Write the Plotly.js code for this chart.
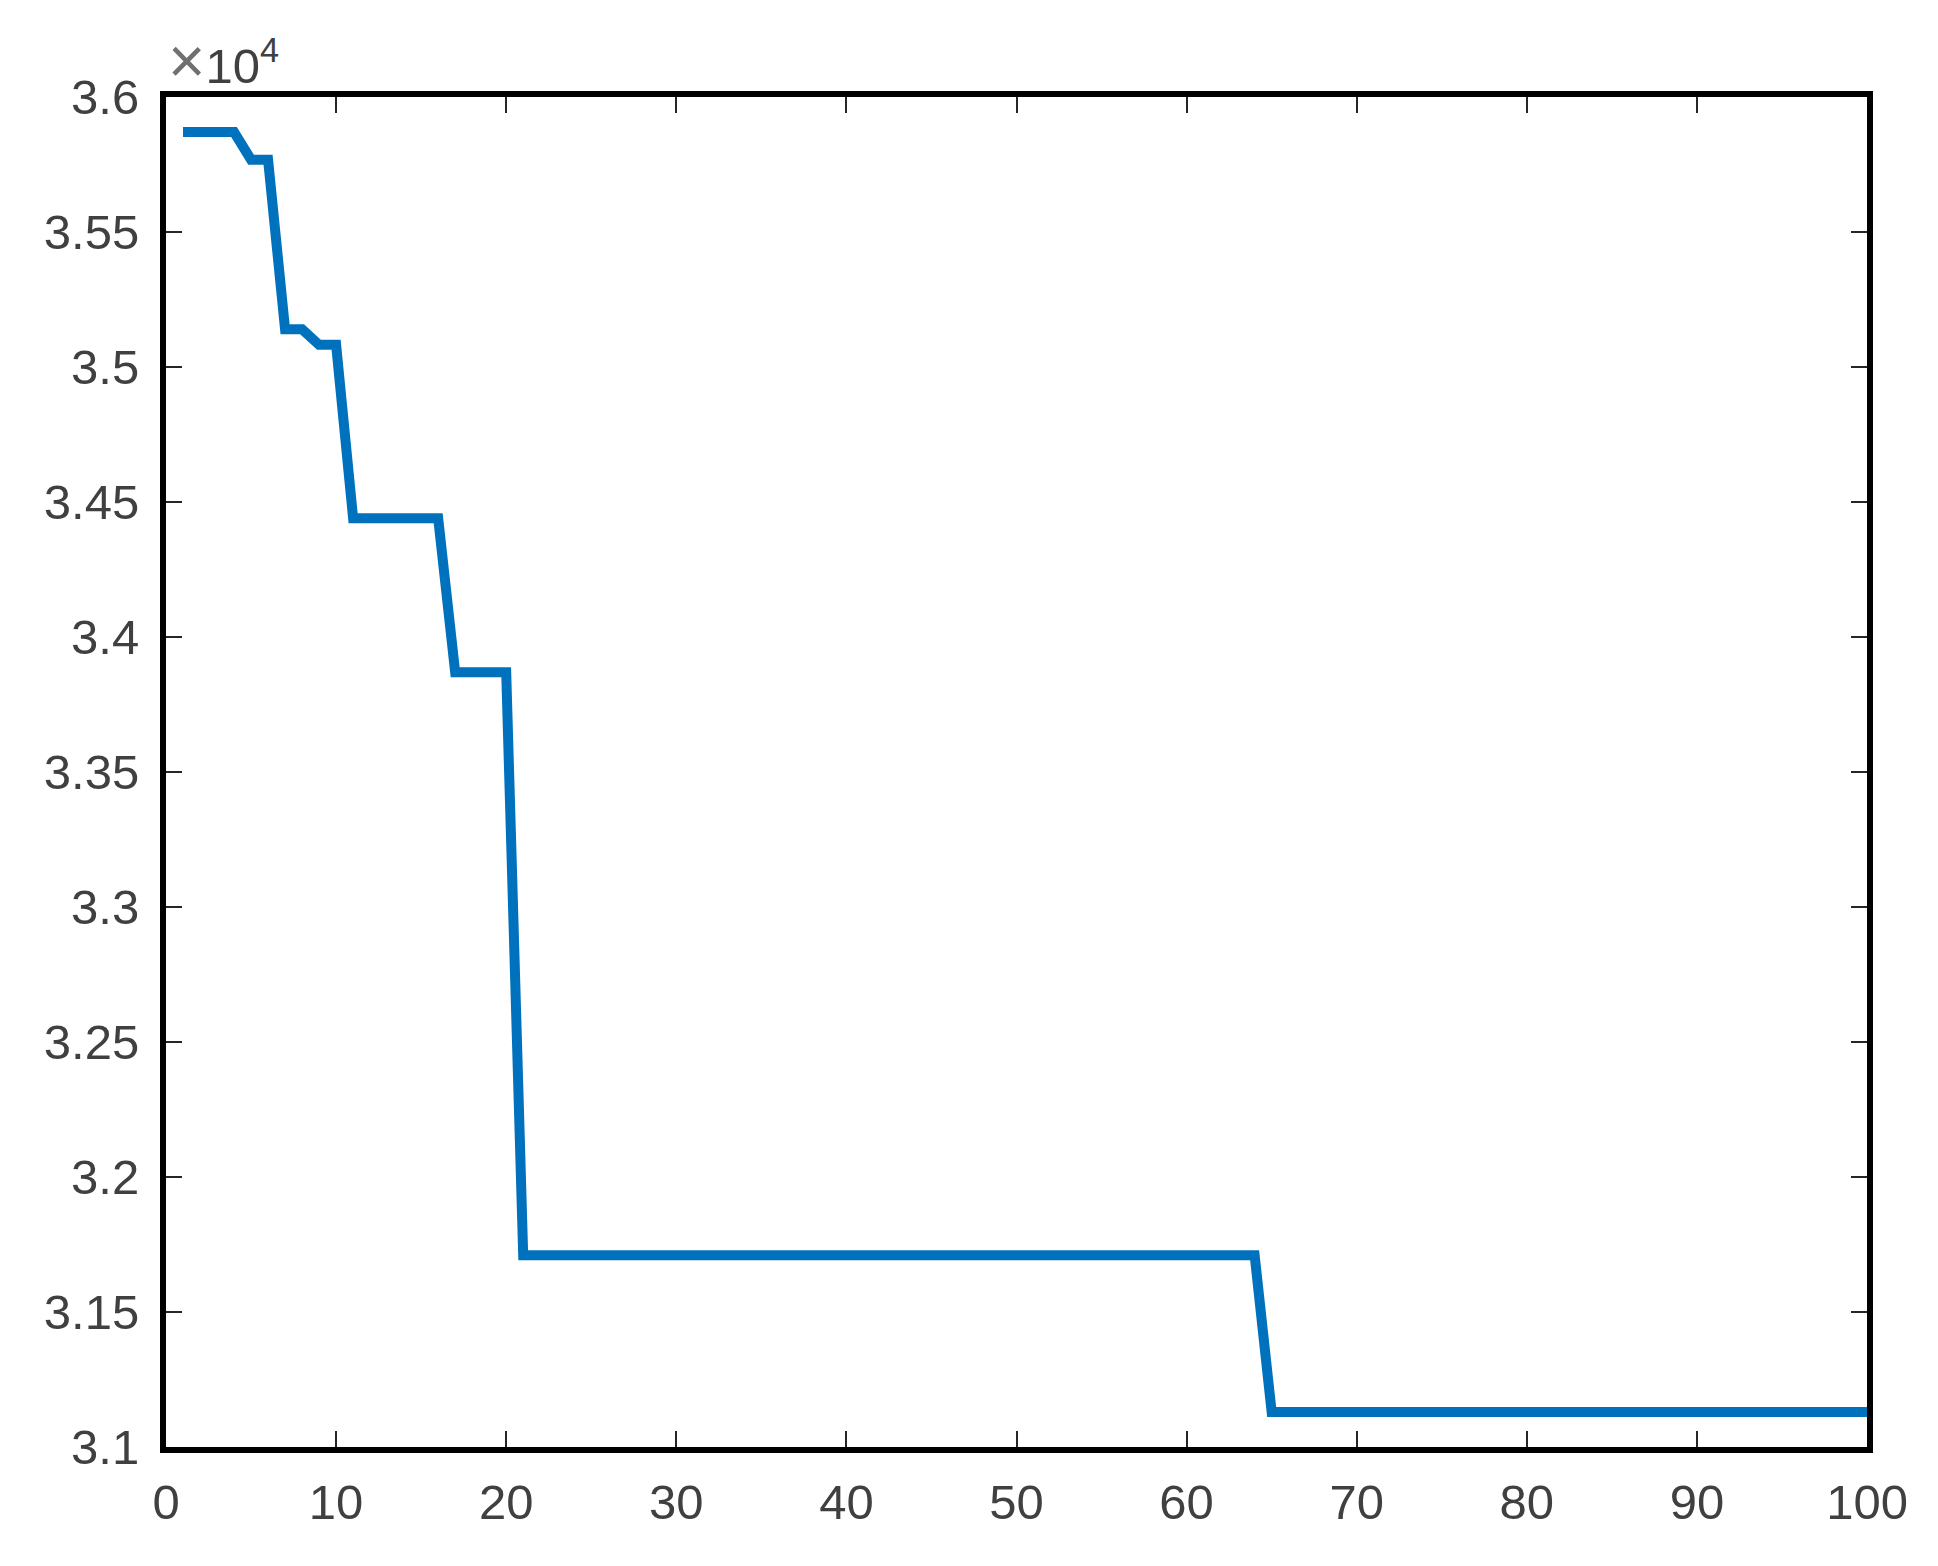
<!DOCTYPE html>
<html>
<head>
<meta charset="utf-8">
<script src="https://cdn.plot.ly/plotly-3.0.1.min.js"></script>
<style>
    html, body { margin: 0; padding: 0; background: #fff; }
    #chart { width: 1938px; height: 1566px; }
</style>
</head>
<body>
<div id="chart"></div>
<script>
// Convergence curve: vertices of the step line (iteration, best value)
const iterations = [1, 4, 5, 6, 7, 8, 9, 10, 11, 16, 17, 20, 21, 64, 65, 100];
const bestValues = [35870, 35870, 35768, 35768, 35140, 35140, 35082, 35082,
                    34440, 34440, 33869, 33869, 31710, 31710, 31130, 31130];

const xTicks = [0, 10, 20, 30, 40, 50, 60, 70, 80, 90, 100];
const yTickVals = [31000, 31500, 32000, 32500, 33000, 33500, 34000, 34500, 35000, 35500, 36000];
const yTickText = ['3.1', '3.15', '3.2', '3.25', '3.3', '3.35', '3.4', '3.45', '3.5', '3.55', '3.6'];

const tickFont = { family: '"Liberation Sans", Arial, sans-serif', size: 49, color: '#404040' };

const trace = {
    x: iterations,
    y: bestValues,
    type: 'scatter',
    mode: 'lines',
    line: { color: '#0072BD', width: 10 },
    hoverinfo: 'x+y',
};

const axisCommon = {
    showline: true,
    linecolor: '#000',
    linewidth: 6,
    mirror: 'ticks',
    ticks: 'inside',
    ticklen: 16,
    tickwidth: 2,
    tickcolor: '#262626',
    showgrid: false,
    zeroline: false,
    tickfont: tickFont,
};

const layout = {
    width: 1938,
    height: 1566,
    margin: { l: 166, r: 71, t: 97, b: 119 },
    paper_bgcolor: '#fff',
    plot_bgcolor: '#fff',
    showlegend: false,
    xaxis: Object.assign({}, axisCommon, {
        range: [0, 100],
        tickvals: xTicks,
        ticklabelstandoff: 7,
    }),
    yaxis: Object.assign({}, axisCommon, {
        range: [31000, 36000],
        tickvals: yTickVals,
        ticktext: yTickText,
        ticklabelstandoff: 11,
    }),
    // exponent label above the y axis
    annotations: [{
        text: '<span style="font-size:64px;color:#707070">×</span>10<sup>4</sup>',
        xref: 'paper', yref: 'paper',
        x: 0, y: 1,
        xanchor: 'left', yanchor: 'bottom',
        yshift: -2,
        showarrow: false,
        font: tickFont,
    }],
};

Plotly.newPlot('chart', [trace], layout, { displayModeBar: false, staticPlot: true });
</script>
</body>
</html>
